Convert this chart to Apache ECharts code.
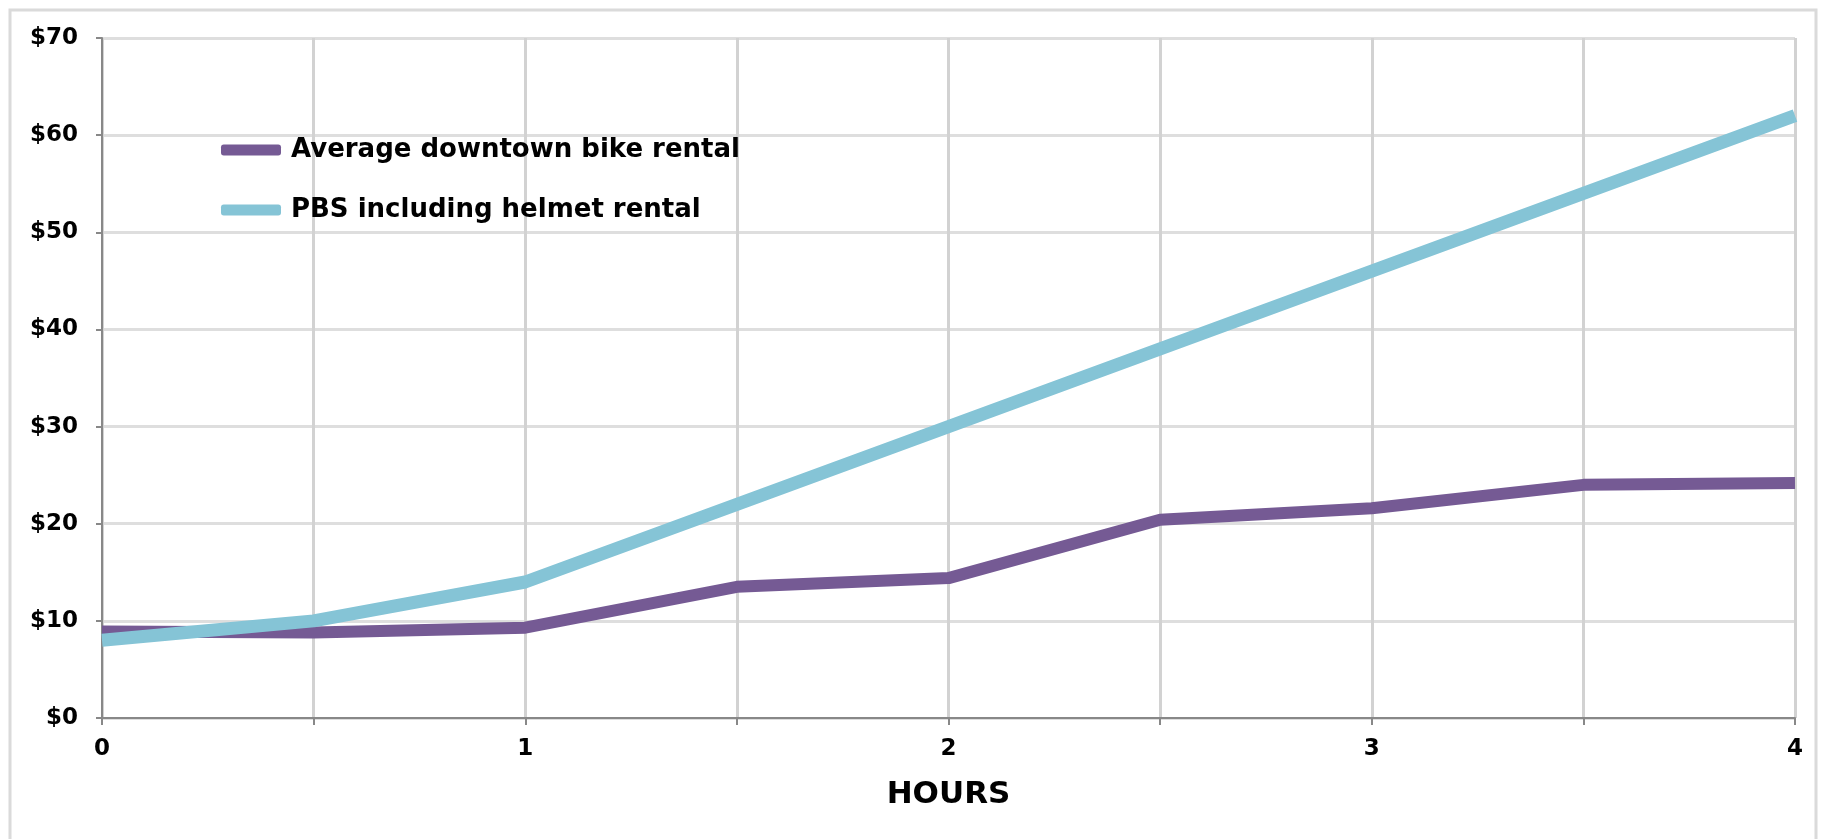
<!DOCTYPE html>
<html>
<head>
<meta charset="utf-8">
<script src="https://cdn.jsdelivr.net/npm/echarts@6/dist/echarts.min.js"></script>
<style>
html,body{margin:0;padding:0;background:#fff;}
#chart{width:1824px;height:839px;}
</style>
</head>
<body>
<div id="chart"></div>
<script>
const hours = [0, 0.5, 1, 1.5, 2, 2.5, 3, 3.5, 4];
const avgRental = [8.9, 8.8, 9.3, 13.5, 14.4, 20.4, 21.6, 24.0, 24.2];
const pbsHelmet = [8, 10, 14, 22, 30, 38, 46, 54, 62];
const seriesNames = ['Average downtown bike rental', 'PBS including helmet rental'];
const xTitle = 'HOURS';

const FONT = '"DejaVu Sans", sans-serif';
const chart = echarts.init(document.getElementById('chart'));
chart.setOption({
  animation: false,
  backgroundColor: '#fff',
  graphic: [{
    type: 'rect', silent: true, z: -10,
    shape: { x: 10, y: 10, width: 1806, height: 900 },
    style: { fill: 'none', stroke: '#dadada', lineWidth: 3 }
  }],
  grid: { left: 102, right: 29, top: 38, bottom: 121, containLabel: false },
  legend: {
    orient: 'vertical', left: 216, top: 131,
    itemWidth: 60, itemHeight: 11, itemGap: 32, icon: 'roundRect',
    textStyle: { fontFamily: FONT, fontWeight: 'bold', fontSize: 26, color: '#000', lineHeight: 28, padding: [0, 0, 0, 5] },
    data: seriesNames
  },
  xAxis: {
    type: 'value', min: 0, max: 4, interval: 0.5,
    name: xTitle, nameLocation: 'middle', nameGap: 61,
    nameTextStyle: { fontFamily: FONT, fontWeight: 'bold', fontSize: 31, color: '#000' },
    axisLine: { show: true, lineStyle: { color: '#888', width: 2 } },
    axisTick: { show: true, length: 7, lineStyle: { color: '#888', width: 2 } },
    axisLabel: {
      margin: 20, fontFamily: FONT, fontWeight: 'bold', fontSize: 23, color: '#000',
      formatter: v => (Number.isInteger(v) ? String(v) : '')
    },
    splitLine: { show: true, lineStyle: { color: '#d2d2d2', width: 3 } }
  },
  yAxis: {
    type: 'value', min: 0, max: 70, interval: 10,
    axisLine: { show: true, lineStyle: { color: '#888', width: 2 } },
    axisTick: { show: true, length: 6, lineStyle: { color: '#888', width: 2 } },
    axisLabel: {
      margin: 24, fontFamily: FONT, fontWeight: 'bold', fontSize: 23, color: '#000',
      formatter: v => '$' + v
    },
    splitLine: { show: true, lineStyle: { color: '#dedede', width: 3 } }
  },
  series: [
    {
      name: seriesNames[0], type: 'line', showSymbol: false, symbol: 'none',
      data: hours.map((h, i) => [h, avgRental[i]]),
      lineStyle: { color: '#755a94', width: 12, join: 'round' },
      itemStyle: { color: '#755a94' }
    },
    {
      name: seriesNames[1], type: 'line', showSymbol: false, symbol: 'none',
      data: hours.map((h, i) => [h, pbsHelmet[i]]),
      lineStyle: { color: '#85c4d6', width: 13, join: 'round' },
      itemStyle: { color: '#85c4d6' }
    }
  ]
});
</script>
</body>
</html>
